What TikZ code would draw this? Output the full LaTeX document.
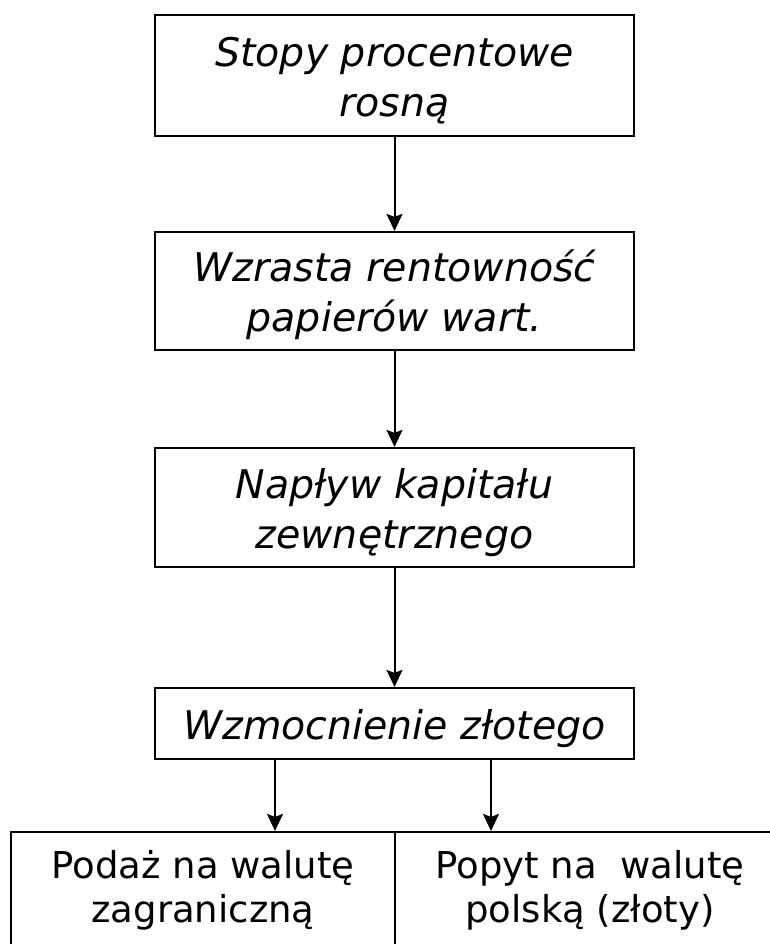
\documentclass[tikz,border=0pt]{standalone}
\usepackage{fontspec}
\setmainfont{DejaVu Sans}[ItalicFont={DejaVu Sans Oblique}]
\usetikzlibrary{arrows.meta}
\tikzstyle{flowchart} = [x = 1pt, y = -1pt]
\tikzstyle{stepBox} = [draw=black, line width=2.2pt, minimum width=479pt, inner sep=0pt, align=center, font=\fontsize{39.5}{50}\selectfont\itshape]
\tikzstyle{resultBox} = [draw=black, line width=2.2pt, minimum height=116pt, inner sep=0pt, align=center, font=\fontsize{37}{44}\selectfont]
\tikzstyle{flowArrow} = [line width=2pt, -{Stealth[length=17pt, width=16pt, inset=3pt]}]
\newcommand{\stepNode}[4]{\node [stepBox, minimum height=#3] (#1) at (394.5, #2) {\rule{0pt}{40pt}#4};}
\newcommand{\sideArrow}[2]{\draw [flowArrow] ([xshift=#1]wzmocnienie.south) -- ([xshift=#1]wzmocnienie.south |- #2.north);}

\begin{document}
\begin{tikzpicture}[flowchart]
  \useasboundingbox (0,0) rectangle (770,944);
  \clip (0,0) rectangle (770,944);
  % chain of causes
  \stepNode{stopy}{75.5}{121pt}{Stopy procentowe\\rosną}
  \stepNode{rentownosc}{291}{118pt}{Wzrasta rentowność\\papierów wart.}
  \stepNode{naplyw}{507.5}{119pt}{Napływ kapitału\\zewnętrznego}
  \stepNode{wzmocnienie}{723.5}{71pt}{Wzmocnienie złotego}
  % effects, cut by the page edge
  \node [resultBox, minimum width=384pt] (podaz) at (203, 890) {Podaż na walutę\\zagraniczną};
  \node [resultBox, minimum width=390pt] (popyt) at (590, 890) {Popyt na\ \ walutę\\polską (złoty)};
  \draw [flowArrow] (stopy) -- (rentownosc);
  \draw [flowArrow] (rentownosc) -- (naplyw);
  \draw [flowArrow] (naplyw) -- (wzmocnienie);
  \sideArrow{-119.5pt}{podaz}
  \sideArrow{96.5pt}{popyt}
\end{tikzpicture}
\end{document}
